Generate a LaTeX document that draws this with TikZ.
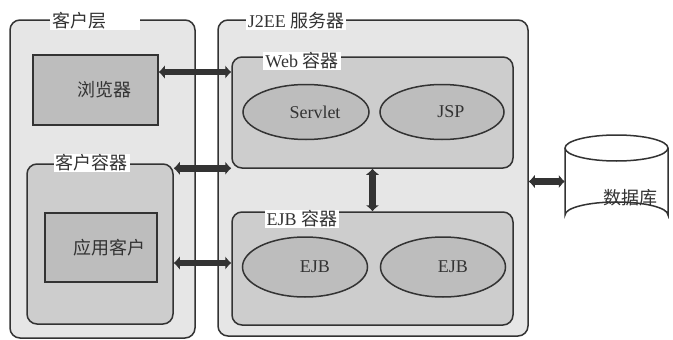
\documentclass[tikz,border=0pt]{standalone}
\usepackage{fontspec}
\setmainfont{Liberation Serif}
\newfontfamily\cjk{Noto Sans CJK SC}
\usetikzlibrary{arrows.meta,calc,shapes.geometric}
\definecolor{lineC}{HTML}{333333}
\definecolor{outerF}{HTML}{E6E6E6}
\definecolor{contF}{HTML}{CDCDCD}
\definecolor{innerF}{HTML}{BDBDBD}
\definecolor{txtC}{HTML}{333333}
\begin{document}
\begin{tikzpicture}[x=1pt,y=-1pt,
  every node/.style={text=txtC,font=\fontsize{18}{21}\selectfont},
  tier/.style={draw=lineC,line width=1.5pt,fill=outerF,rounded corners=10pt,inner sep=0pt},
  cont/.style={draw=lineC,line width=1.5pt,fill=contF,rounded corners=10pt,inner sep=0pt},
  box/.style={draw=lineC,line width=1.5pt,fill=innerF,inner sep=0pt},
  comp/.style={ellipse,draw=lineC,line width=1.5pt,fill=innerF,inner sep=0pt},
  ttl/.style={fill=white,inner xsep=2pt,inner ysep=1pt},
  dbl/.style={line width=6.5pt,draw=lineC,{Latex[length=6pt,width=14pt]}-{Latex[length=6pt,width=14pt]}}
]
\useasboundingbox (0,0) rectangle (673,340);
\fill[white] (0,0) rectangle (673,340);

% client tier
\node[tier,minimum width=185pt,minimum height=318pt] (ct) at (102.5,179) {};
\node[ttl,anchor=west,text width=86pt,align=left] (ctt) at (50,21) {\cjk 客户层};
\node[box,minimum width=125pt,minimum height=70pt] (br) at (95.5,90) {\hspace*{18pt}\cjk 浏览器};
\node[cont,minimum width=146pt,minimum height=160pt] (cc) at (100,244) {};
\node[ttl] (cct) at (92,163) {\cjk 客户容器};
\node[box,minimum width=112pt,minimum height=69pt] (ac) at (101,247.5) {\hspace*{16pt}\cjk 应用客户};

% J2EE server
\node[tier,minimum width=310pt,minimum height=316pt] (js) at (373,178) {};
\node[ttl] (jst) at (296,21) {J2EE {\cjk 服务器}};
\node[cont,minimum width=281pt,minimum height=111pt] (web) at (372.5,112.5) {};
\node[ttl] (webt) at (302,61) {Web {\cjk 容器}};
\node[comp,minimum width=126pt,minimum height=55pt] (sv) at (306,112) {\hspace*{18pt}Servlet};
\node[comp,minimum width=124pt,minimum height=55pt] (jsp) at (442,112) {\hspace*{18pt}JSP};
\node[cont,minimum width=281pt,minimum height=113pt] (ejbc) at (372.5,268.5) {};
\node[ttl] (ejbt) at (302,219) {EJB {\cjk 容器}};
\node[comp,minimum width=125pt,minimum height=60pt] (e1) at (305,267) {\hspace*{20pt}EJB};
\node[comp,minimum width=125pt,minimum height=60pt] (e2) at (443,267) {\hspace*{20pt}EJB};

% database
\node[minimum width=103pt,minimum height=93pt,inner sep=0pt] (db) at (616.5,181.5) {};
\fill[white,draw=lineC,line width=1.5pt] (565,148) -- (565,215)
  arc[start angle=180,end angle=360,x radius=51.5,y radius=13] -- (668,148)
  arc[start angle=0,end angle=-180,x radius=51.5,y radius=13];
\draw[lineC,line width=1.5pt] (565,148) arc[start angle=180,end angle=0,x radius=51.5,y radius=13];
\node (dbt) at (630,198) {\cjk 数据库};

% connectors
\draw[dbl] ([yshift=18pt]br.east) -- ([yshift=18pt]br.east -| web.west);
\draw[dbl] ([yshift=-5pt]cc.north east) -- ([yshift=-5pt]cc.north east -| web.west);
\draw[dbl] ([yshift=-19pt]cc.east) -- ([yshift=-19pt]cc.east -| ejbc.west);
\draw[dbl] (web.south) -- (ejbc.north);
\draw[dbl] (db.west) -- (db.west -| js.east);
\end{tikzpicture}
\end{document}
